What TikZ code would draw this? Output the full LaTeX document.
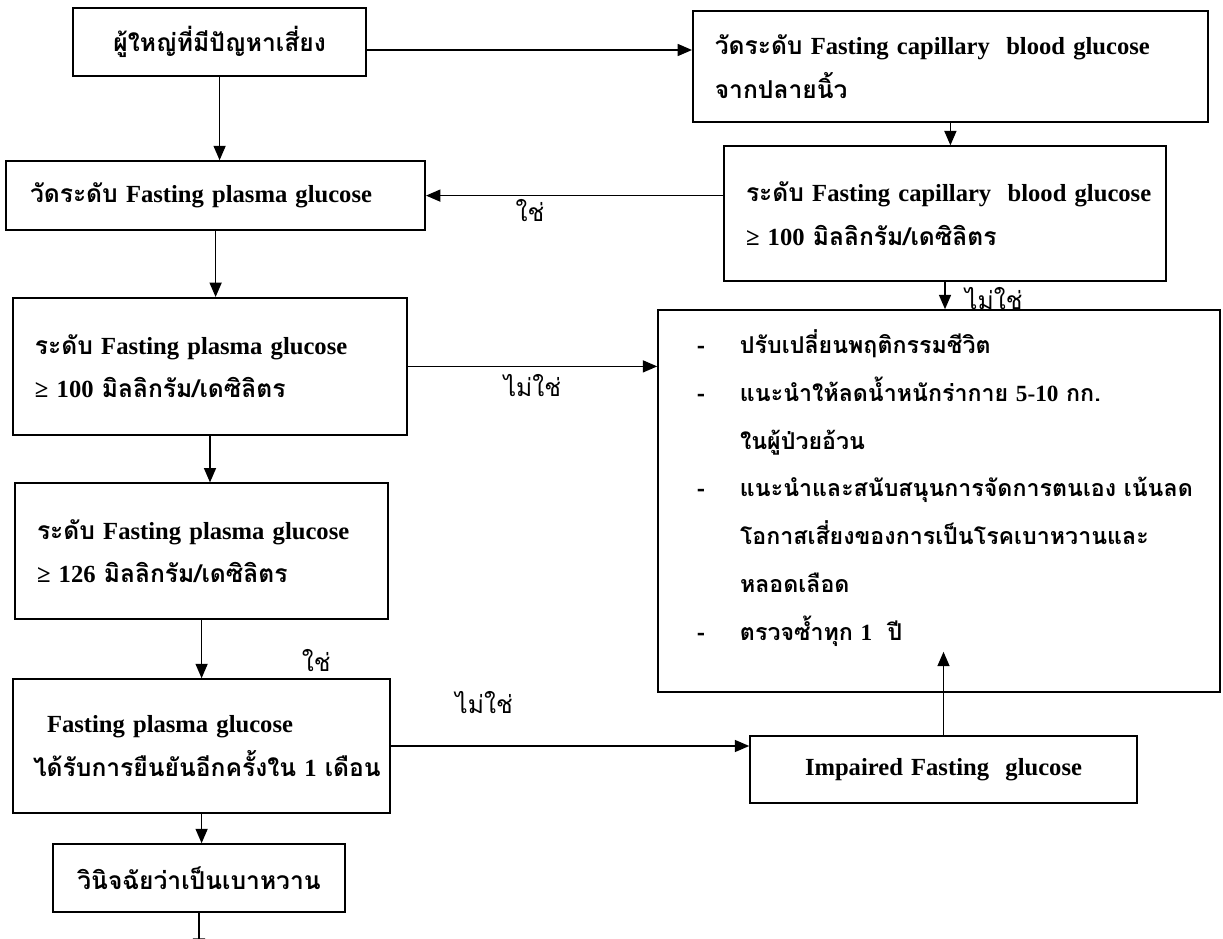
\documentclass[tikz,border=0pt]{standalone}
\usepackage{fontspec}
\setmainfont{Liberation Serif}
\newfontfamily\thaifont[Script=Thai]{Loma}
\usetikzlibrary{arrows.meta, positioning}
\newcommand{\eng}[1]{{\rmfamily\bfseries #1}}

\begin{document}
\begin{tikzpicture}[>={Triangle[length=0.36cm, width=0.3cm]}, line width=1.1pt,
  flow/.style={draw, inner xsep=0.55cm, align=left, font=\fontsize{17.5}{31}\selectfont\thaifont\bfseries},
  ans/.style={font=\fontsize{17.5}{31}\selectfont\thaifont, inner sep=1pt}]

\useasboundingbox (0,0) rectangle (30.575,-23.475);

% --- Left column: plasma glucose path ---
\node[flow, align=center, text width=6.23cm, minimum height=1.7cm] (risk) at (5.49,-1.05) {ผู้ใหญ่ที่มีปัญหาเสี่ยง};
\node[flow, inner xsep=0.6cm, text width=9.28cm, minimum height=1.73cm] (fpg) at (5.39,-4.89) {\mbox{วัดระดับ \eng{Fasting plasma glucose}}};
\node[flow, text width=8.75cm, minimum height=3.43cm] (fpg100) at (5.25,-9.16) {\mbox{ระดับ \eng{Fasting plasma glucose}}\\\mbox{\eng{≥ 100} มิลลิกรัม/เดซิลิตร}};
\node[flow, text width=8.23cm, minimum height=3.4cm] (fpg126) at (5.04,-13.78) {\mbox{ระดับ \eng{Fasting plasma glucose}}\\\mbox{\eng{≥ 126} มิลลิกรัม/เดซิลิตร}};
\node[flow, inner xsep=0.5cm, text width=8.43cm, minimum height=3.35cm] (confirm) at (5.04,-18.65) {\hspace*{0.35cm}\mbox{\eng{Fasting plasma glucose}}\\\mbox{ได้รับการยืนยันอีกครั้งใน \eng{1} เดือน}};
\node[flow, align=center, text width=6.2cm, minimum height=1.7cm] (diag) at (4.975,-21.95) {วินิจฉัยว่าเป็นเบาหวาน};

% --- Right column: capillary screening ---
\node[flow, text width=11.78cm, minimum height=2.78cm] (cap) at (23.76,-1.66) {\mbox{วัดระดับ \eng{Fasting capillary\ \ blood glucose}}\\\mbox{จากปลายนิ้ว}};
\node[flow, text width=9.95cm, minimum height=3.375cm] (caplvl) at (23.625,-5.34) {\mbox{ระดับ \eng{Fasting capillary\ \ blood glucose}}\\\mbox{\eng{≥ 100} มิลลิกรัม/เดซิลิตร}};
\node[flow, inner xsep=0.975cm, text width=12.1cm, minimum height=9.55cm, font=\fontsize{16.5}{34}\selectfont\thaifont\bfseries] (advice) at (23.475,-12.525) {%
  \makebox[1.075cm][l]{-}\mbox{ปรับเปลี่ยนพฤติกรรมชีวิต}\\
  \makebox[1.075cm][l]{-}\mbox{แนะนำให้ลดน้ำหนักร่ากาย \eng{5-10} กก.}\\
  \hspace*{1.075cm}\mbox{ในผู้ป่วยอ้วน}\\
  \makebox[1.075cm][l]{-}\mbox{แนะนำและสนับสนุนการจัดการตนเอง เน้นลด}\\
  \hspace*{1.075cm}\mbox{โอกาสเสี่ยงของการเป็นโรคเบาหวานและ}\\
  \hspace*{1.075cm}\mbox{หลอดเลือด}\\
  \makebox[1.075cm][l]{-}\mbox{ตรวจซ้ำทุก \eng{1}\ \ ปี}\rule[-0.8cm]{0pt}{0.8cm}};
\node[flow, align=center, text width=8.575cm, minimum height=1.675cm] (ifg) at (23.5875,-19.2375) {\eng{Impaired Fasting\ \ glucose}};

% free ends
\path (ifg.north |- advice.south) ++(0,1.025) coordinate (ifgtip);
\path (diag.south) ++(0,-1.0) coordinate (exit);

% --- Connectors ---
\draw[->] ([yshift=-0.2cm]risk.east) -- ([yshift=-0.2cm]risk.east -| cap.west);
\draw[->] (risk.south) -- (risk.south |- fpg.north);
\draw[->] (cap.south) -- (cap.south |- caplvl.north);
\draw[->] (caplvl.west |- fpg) -- node[ans, pos=0.65, below=1pt] {ใช่} (fpg);
\draw[->] (caplvl.south) -- node[ans, pos=0.6, right=0.45cm] {ไม่ใช่} (caplvl.south |- advice.north);
\draw[->] (fpg.south) -- (fpg.south |- fpg100.north);
\draw[->] (fpg100) -- node[ans, below=4pt] {ไม่ใช่} (fpg100 -| advice.west);
\draw[->] (fpg100.south) -- (fpg100.south |- fpg126.north);
\draw[->] (fpg126.south) -- node[ans, pos=0.7, right=2.45cm] {ใช่} (fpg126.south |- confirm.north);
\draw[->] (confirm) -- node[ans, pos=0.26, above=0.75cm] {ไม่ใช่} (confirm -| ifg.west);
\draw[->] (confirm.south) -- (confirm.south |- diag.north);
\draw[->] (diag.south) -- (exit);
\draw[->] (ifg.north) -- (ifgtip);

\end{tikzpicture}
\end{document}
